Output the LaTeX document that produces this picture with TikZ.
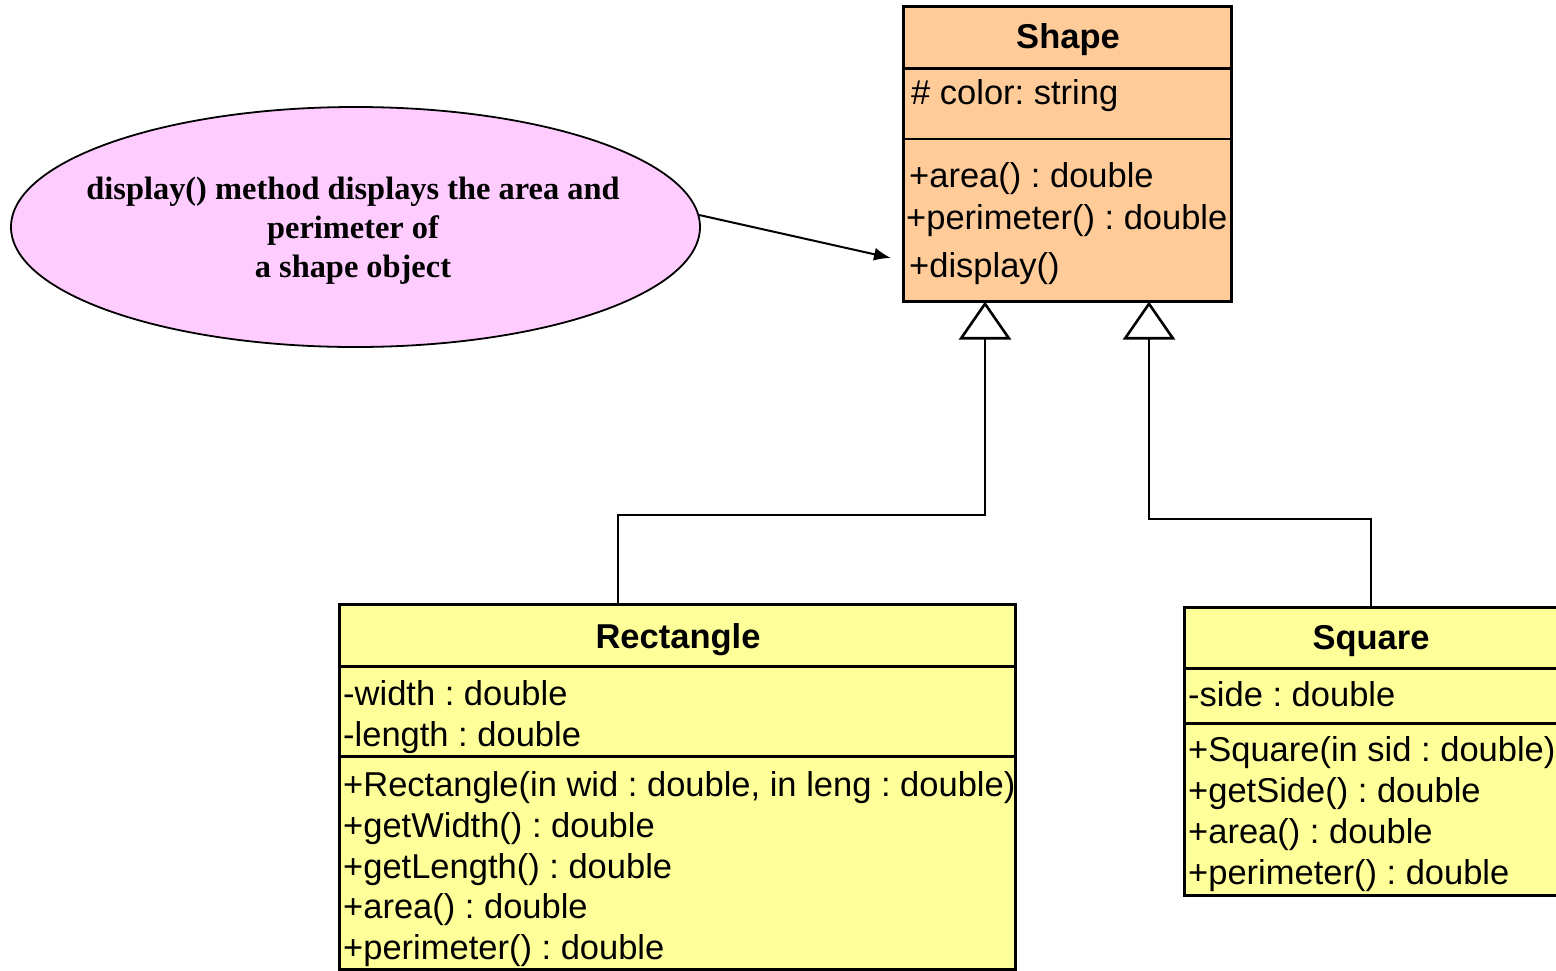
\documentclass[tikz,border=0pt]{standalone}
\usepackage{fontspec}
\setmainfont{Liberation Sans}
\newfontfamily\notefont{Liberation Serif}
\usetikzlibrary{arrows.meta,shapes.geometric}
\definecolor{shapefill}{HTML}{FFCC99}
\definecolor{classfill}{HTML}{FFFF99}
\definecolor{notefill}{HTML}{FFCCFF}
\frenchspacing
\begin{document}
\begin{tikzpicture}[x=1pt,y=-1pt,
  classbox/.style={draw=black,line width=3pt,rectangle,inner sep=0pt,anchor=north west},
  divider/.style={line width=3pt},
  thindivider/.style={line width=1.5pt},
  member/.style={anchor=base west,inner sep=0pt,font=\fontsize{34.5}{41}\selectfont},
  classname/.style={anchor=base,inner sep=0pt,font=\fontsize{34.5}{41}\selectfont\bfseries},
  gen/.style={line width=1.5pt,-{Triangle[open,length=38pt,width=52pt,line width=2.6pt,fill=white]}},
  note/.style={ellipse,draw=black,fill=notefill,line width=1.8pt,minimum width=689pt,minimum height=240pt,inner sep=0pt},
  notetext/.style={align=center,inner sep=0pt,font=\notefont\bfseries\fontsize{32.4}{39}\selectfont},
  pointer/.style={line width=2pt,-{Latex[length=17pt,width=13pt]}}
]
\path[use as bounding box] (0,0) rectangle (1556,970);
\clip (0,0) rectangle (1556,970);

% ---- class Shape ----
\node[classbox,fill=shapefill,minimum width=328pt,minimum height=295pt] (shape) at (902,5) {};
\draw[divider] (shape.north west) ++(0,63) coordinate (sh1) -- (sh1 -| shape.east);
\draw[thindivider] (shape.north west) ++(0,134) coordinate (sh2) -- (sh2 -| shape.east);
\node[classname] (shapeName) at (1068,48) {Shape};
\node[member] (shapeA1) at (911,104) {\# color: string};
\node[member] (shapeO1) at (909,187) {+area() : double};
\node[member] (shapeO2) at (906,229) {+perimeter() : double};
\node[member] (shapeO3) at (909,277) {+display()};

% ---- class Rectangle ----
\node[classbox,fill=classfill,minimum width=676pt,minimum height=365pt] (rect) at (338,603) {};
\draw[divider] (rect.north west) ++(0,63) coordinate (rc1) -- (rc1 -| rect.east);
\draw[divider] (rect.north west) ++(0,153) coordinate (rc2) -- (rc2 -| rect.east);
\node[classname] (rectName) at (678,648) {Rectangle};
\node[member] (rectA1) at (343,705) {-width : double};
\node[member] (rectA2) at (343,746) {-length : double};
\node[member] (rectO1) at (343,796) {+Rectangle(in wid : double, in leng : double)};
\node[member] (rectO2) at (343,837) {+getWidth() : double};
\node[member] (rectO3) at (343,878) {+getLength() : double};
\node[member] (rectO4) at (343,918) {+area() : double};
\node[member] (rectO5) at (343,959) {+perimeter() : double};

% ---- class Square ----
\node[classbox,fill=classfill,minimum width=392pt,minimum height=288pt] (sq) at (1183,606) {};
\draw[divider] (sq.north west) ++(0,62) coordinate (sq1) -- (sq1 -| sq.east);
\draw[divider] (sq.north west) ++(0,117) coordinate (sq2) -- (sq2 -| sq.east);
\node[classname] (sqName) at (1371,649) {Square};
\node[member] (sqA1) at (1188,706) {-side : double};
\node[member] (sqO1) at (1188,761) {+Square(in sid : double)};
\node[member] (sqO2) at (1188,802) {+getSide() : double};
\node[member] (sqO3) at (1188,843) {+area() : double};
\node[member] (sqO4) at (1188,884) {+perimeter() : double};

% ---- generalisation connectors ----
\draw[gen] ([xshift=280pt]rect.north west) -- ++(0,-88) -| ([xshift=83pt,yshift=1.5pt]shape.south west);
\draw[gen] ([xshift=188pt]sq.north west) -- ++(0,-87) -| ([xshift=247pt,yshift=1.5pt]shape.south west);

% ---- note ----
\node[note] (note) at (355.5,227) {};
\node[notetext] (noteText) at (353,231) {display() method displays the area and\\perimeter of\\a shape object};
\coordinate (noteTip) at (891,258);
\draw[pointer] (note.2.7) -- (noteTip);
\end{tikzpicture}
\end{document}
